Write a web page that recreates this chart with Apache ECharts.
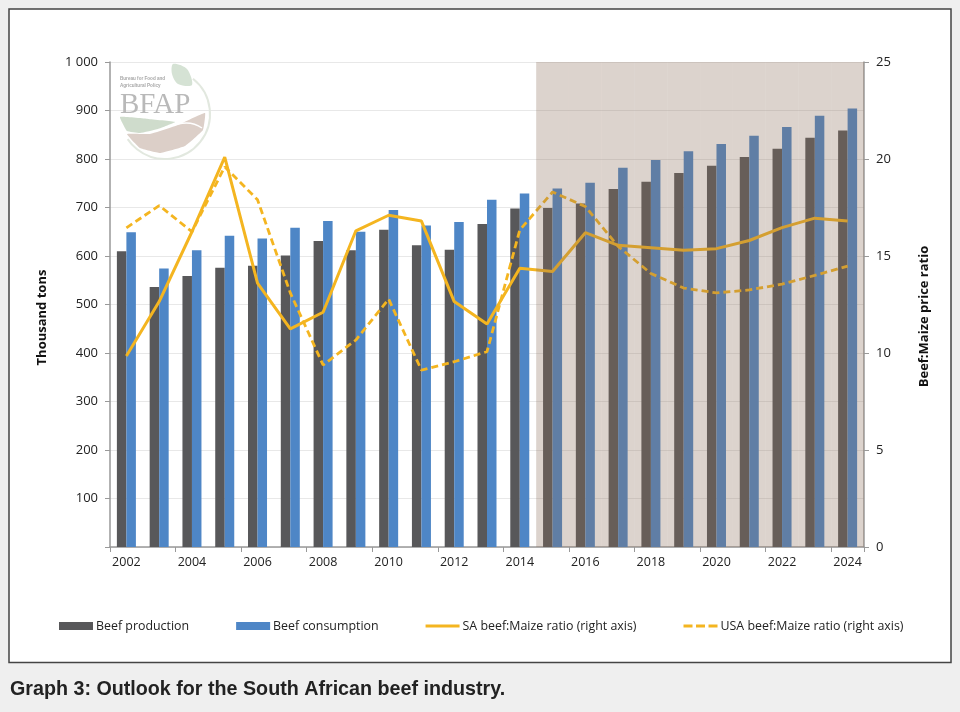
<!DOCTYPE html>
<html><head><meta charset="utf-8">
<style>html,body{margin:0;padding:0;background:#efefef}#c{width:960px;height:712px}</style>
<script src="https://cdn.jsdelivr.net/npm/echarts@6/dist/echarts.min.js"></script>
</head><body><div id="c"></div>
<script>
const years = ['2002','2003','2004','2005','2006','2007','2008','2009','2010','2011','2012','2013','2014','2015','2016','2017','2018','2019','2020','2021','2022','2023','2024'];
const production = [610,536,559,576,580,601,631,612,654,622,613,666,698,699,708,738,753,771,786,804,821,844,859];
const consumption = [649,574,612,642,636,658,672,650,695,663,670,716,729,739,751,782,798,816,831,848,866,889,904];
const saRatio = [9.85,12.65,16.25,20.1,13.6,11.24,12.1,16.3,17.1,16.8,12.65,11.5,14.37,14.2,16.2,15.55,15.43,15.3,15.38,15.8,16.46,16.95,16.8];
const usaRatio = [16.45,17.6,16.25,19.6,17.9,13.1,9.38,10.67,12.78,9.12,9.55,10.07,16.34,18.3,17.55,15.5,14.1,13.35,13.1,13.25,13.55,14.0,14.48];
const outlookBand = [null,null,null,null,null,null,null,null,null,null,null,null,null,1000,1000,1000,1000,1000,1000,1000,1000,1000,1000];

const font = '"Open Sans","Liberation Sans",sans-serif';
const chart = echarts.init(document.getElementById('c'), null, {renderer:'canvas'});
chart.setOption({
  animation:false,
  backgroundColor:'#efefef',
  textStyle:{fontFamily:font},
  title:{
    text:'Graph 3: Outlook for the South African beef industry.',
    left:10, top:680, padding:0,
    textStyle:{fontFamily:'"Liberation Sans",sans-serif',fontSize:19.7,fontWeight:'bold',color:'#222'}
  },
  graphic:[
    {type:'rect',z:-1,shape:{x:9,y:9,width:942,height:653.5},style:{fill:'#fff',stroke:'#444',lineWidth:1.5}},
    {type:'polygon',z:1,shape:{points:[[173,64],[187,69],[192,85],[178,84],[172,74]],smooth:0.3},style:{fill:'#d5e2d4'}},
    {type:'arc',z:1,shape:{cx:165,cy:114,r:45,startAngle:-0.9,endAngle:2.55,clockwise:true},style:{fill:'none',stroke:'#e2e8df',lineWidth:2}},
    {type:'polygon',z:1,shape:{points:[[120,117],[148,119],[175,122],[158,129],[140,133],[127,131]],smooth:0.1},style:{fill:'#cfdccc'}},
    {type:'polygon',z:1,shape:{points:[[127,134],[150,134],[178,125],[205,113],[203,130],[185,146],[160,153],[140,148]],smooth:0.1},style:{fill:'#dccfc8'}},
    {type:'bezierCurve',z:1,shape:{x1:178,y1:124,cpx1:186,cpy1:122,cpx2:195,cpy2:123,x2:202,y2:128},style:{fill:'none',stroke:'#fff',lineWidth:1.5}},
    {type:'text',z:1,style:{x:120,y:76,text:'Bureau for Food and',fill:'#a8a8a8',font:'bold 4.6px "Liberation Sans",sans-serif'}},
    {type:'text',z:1,style:{x:120,y:83,text:'Agricultural Policy',fill:'#a8a8a8',font:'bold 4.6px "Liberation Sans",sans-serif'}},
    {type:'text',z:1,style:{x:120,y:91,text:'BFAP',fill:'#b9b9b9',font:'29px "Liberation Serif",serif'}}
  ],
  grid:{left:110,right:96,top:62,bottom:165,containLabel:false},
  legend:{
    left:54, top:615, itemWidth:34, itemHeight:8, itemGap:47, symbolKeepAspect:true,
    data:[
      {name:'Beef production',icon:'rect'},
      {name:'Beef consumption',icon:'rect'},
      {name:'SA beef:Maize ratio (right axis)',icon:'path://M0,0H34V3H0Z'},
      {name:'USA beef:Maize ratio (right axis)',icon:'path://M0,0H9V3H0Z M12.5,0H21.5V3H12.5Z M25,0H34V3H25Z'}
    ],
    textStyle:{fontFamily:font,fontSize:12.4,color:'#222',padding:[0,0,0,-2]}
  },
  xAxis:[
    {type:'category',data:years,
     axisLine:{lineStyle:{color:'#999',width:1.5}},
     axisTick:{show:true,alignWithLabel:false,length:5,lineStyle:{color:'#999'}},
     axisLabel:{interval:1,color:'#222',fontSize:12.5,margin:9,fontFamily:font},
     splitLine:{show:false}},
    {type:'category',data:years,show:false}
  ],
  yAxis:[
    {type:'value',min:0,max:1000,interval:100,
     name:'Thousand tons',nameLocation:'middle',nameGap:61,nameRotate:90,
     nameTextStyle:{fontWeight:'bold',fontSize:13,color:'#111',fontFamily:font,padding:[0,26,0,0]},
     axisLine:{show:true,lineStyle:{color:'#999',width:1.5}},
     axisTick:{show:true,length:5,lineStyle:{color:'#999'}},
     axisLabel:{color:'#222',fontSize:13,margin:12,fontFamily:font,
       formatter:v=>v===0?'':(v>=1000?'1 000':String(v))},
     splitLine:{show:true,lineStyle:{color:'#e8e8e8',width:1}}},
    {type:'value',min:0,max:25,interval:5,position:'right',
     name:'Beef:Maize price ratio',nameLocation:'middle',nameGap:54,nameRotate:90,
     nameTextStyle:{fontWeight:'bold',fontSize:13,color:'#111',fontFamily:font,padding:[0,24,0,0]},
     axisLine:{show:true,lineStyle:{color:'#999',width:1.5}},
     axisTick:{show:true,length:5,lineStyle:{color:'#999'}},
     axisLabel:{color:'#222',fontSize:13,margin:12,fontFamily:font},
     splitLine:{show:false}}
  ],
  series:[
    {name:'Beef production',type:'bar',data:production,barWidth:'29%',barGap:0,itemStyle:{color:'#58585a'},z:2},
    {name:'Beef consumption',type:'bar',data:consumption,barWidth:'29%',barGap:0,itemStyle:{color:'#4e86c6'},z:2},
    {name:'SA beef:Maize ratio (right axis)',type:'line',yAxisIndex:1,data:saRatio,symbol:'none',
      itemStyle:{color:'#f4b520'},lineStyle:{color:'#f4b520',width:3},z:3},
    {name:'USA beef:Maize ratio (right axis)',type:'line',yAxisIndex:1,data:usaRatio,symbol:'none',
      itemStyle:{color:'#f4b520'},lineStyle:{color:'#f4b520',width:2.8,type:[7,4]},z:3},
    {name:'Outlook period',type:'bar',xAxisIndex:1,data:outlookBand,barWidth:'100%',
      itemStyle:{color:'rgba(138,108,88,0.3)'},z:4,silent:true}
  ]
});
</script></body></html>
